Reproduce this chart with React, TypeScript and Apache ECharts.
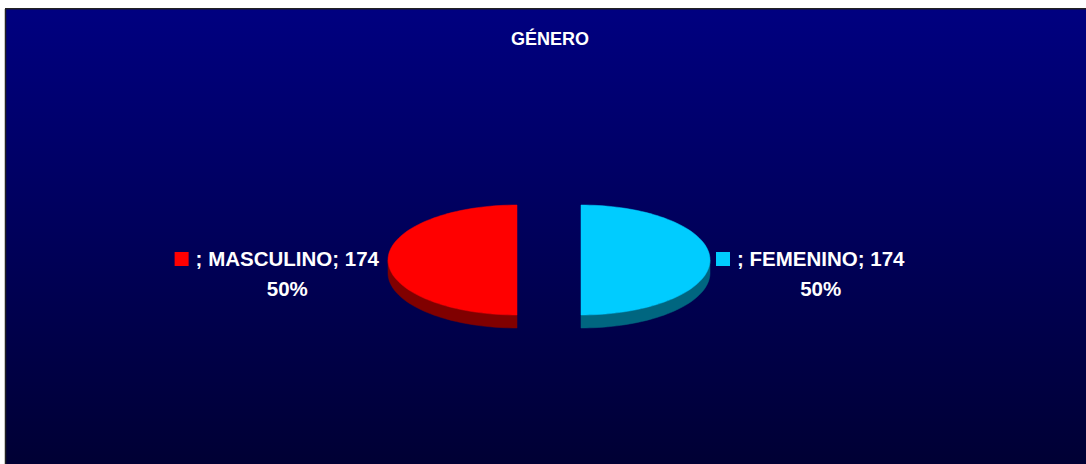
import React, { useEffect, useRef } from "react";
import * as echarts from "echarts";

const chartTitle = "GÉNERO";
const seriesName = "";
const categories = ["MASCULINO", "FEMENINO"];
const values = [174, 174];
const topColors = ["#FF0000", "#00CCFF"];
const sideColors = ["#800000", "#006680"];

const FONT = "bold 20.5px 'Liberation Sans', Arial, sans-serif";

function measure(text: string, font: string): number {
  const c = document.createElement("canvas");
  const ctx = c.getContext("2d");
  if (!ctx) return text.length * 11;
  ctx.font = font;
  return ctx.measureText(text).width;
}

export default function App() {
  const ref = useRef<HTMLDivElement>(null);
  useEffect(() => {
    if (!ref.current) return;
    const chart = echarts.init(ref.current, null, { renderer: "svg" });
    const total = values.reduce((a, b) => a + b, 0);
    const cx = 549, cy = 260, rx = 129, ry = 55, depth = 13, explode = 32;
    const startDeg = 90;

    const renderItem = (params: any, api: any) => {
      const idx = params.dataIndex;
      let before = 0;
      for (let i = 0; i < idx; i++) before += values[i];
      const v = api.value(0);
      const a0 = ((startDeg + (before / total) * 360) * Math.PI) / 180;
      const a1 = ((startDeg + ((before + v) / total) * 360) * Math.PI) / 180;
      const mid = (a0 + a1) / 2;
      const ox = cx + Math.cos(mid) * explode;
      const oy = cy + Math.sin(mid) * explode * (ry / rx);
      const steps = 90;
      const top: number[][] = [[ox, oy]];
      const arcVis: number[][] = [];
      let minX = Infinity, maxX = -Infinity;
      for (let s = 0; s <= steps; s++) {
        const t = a0 + ((a1 - a0) * s) / steps;
        const x = ox + rx * Math.cos(t);
        const y = oy + ry * Math.sin(t);
        top.push([x, y]);
        minX = Math.min(minX, x);
        maxX = Math.max(maxX, x);
        if (Math.sin(t) >= -1e-9) arcVis.push([x, y]);
      }
      const children: any[] = [];
      if (arcVis.length > 1) {
        const side = arcVis.concat(
          arcVis.slice().reverse().map((p) => [p[0], p[1] + depth])
        );
        children.push({
          type: "polygon",
          shape: { points: side },
          style: { fill: sideColors[idx], stroke: sideColors[idx], lineWidth: 0.5 },
        });
      }
      children.push({
        type: "polygon",
        shape: { points: top },
        style: { fill: topColors[idx], stroke: topColors[idx], lineWidth: 0.5 },
      });

      const line1 = `${seriesName}; ${categories[idx]}; ${v}`;
      const line2 = `${Math.round((v / total) * 100)}%`;
      const w = measure(line1, FONT);
      const y1 = cy - 1.5;
      const y2 = cy + 28.5;
      const mk = 14, gap = 7;
      let textLeft: number, markerLeft: number;
      if (Math.cos(mid) < 0) {
        const right = minX - 9;
        textLeft = right - w;
        markerLeft = textLeft - gap - mk;
      } else {
        markerLeft = maxX + 6;
        textLeft = markerLeft + mk + gap;
      }
      children.push({
        type: "rect",
        shape: { x: markerLeft, y: y1 - 6.5, width: mk, height: mk },
        style: { fill: topColors[idx] },
      });
      children.push({
        type: "text",
        x: textLeft,
        y: y1,
        style: {
          text: line1,
          fill: "#FFFFFF",
          font: FONT,
          textAlign: "left",
          textVerticalAlign: "middle",
        },
      });
      children.push({
        type: "text",
        x: textLeft + w / 2,
        y: y2,
        style: {
          text: line2,
          fill: "#FFFFFF",
          font: FONT,
          textAlign: "center",
          textVerticalAlign: "middle",
        },
      });
      return { type: "group", children };
    };

    chart.setOption({
      animation: false,
      graphic: [
        {
          type: "rect",
          z: -10,
          shape: { x: 5, y: 9, width: 1081, height: 455 },
          style: {
            fill: new echarts.graphic.LinearGradient(0, 0, 0, 1, [
              { offset: 0, color: "rgb(0,0,128)" },
              { offset: 1, color: "rgb(0,0,52)" },
            ]),
          },
        },
        {
          type: "line",
          z: -9,
          shape: { x1: 5.5, y1: 9, x2: 5.5, y2: 464 },
          style: { stroke: "#222222", lineWidth: 1.5 },
        },
        {
          type: "line",
          z: -9,
          shape: { x1: 5, y1: 8.75, x2: 1086, y2: 8.75 },
          style: { stroke: "#222222", lineWidth: 1.5 },
        },
        {
          type: "text",
          x: 550,
          y: 39,
          style: {
            text: chartTitle,
            fill: "#FFFFFF",
            font: "bold 18px 'Liberation Sans', Arial, sans-serif",
            textAlign: "center",
            textVerticalAlign: "middle",
          },
        },
      ],
      series: [
        {
          type: "custom",
          coordinateSystem: "none",
          renderItem,
          data: values.map((v, i) => [v, i]),
        },
      ],
    });
    return () => chart.dispose();
  }, []);
  return (
    <div
      ref={ref}
      style={{ position: "fixed", left: 0, top: 0, width: 1086, height: 464, background: "#FFFFFF" }}
    />
  );
}
